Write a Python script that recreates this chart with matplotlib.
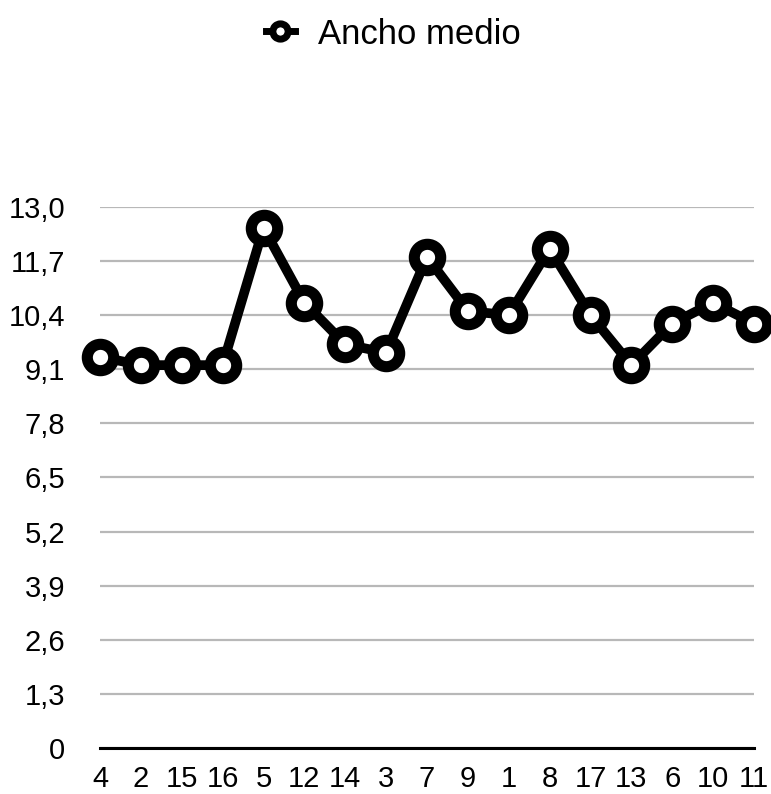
import matplotlib
matplotlib.use("Agg")
import matplotlib.pyplot as plt
from matplotlib.ticker import FixedLocator, FuncFormatter
from matplotlib.lines import Line2D

categories = ["4", "2", "15", "16", "5", "12", "14", "3", "7", "9", "1", "8", "17", "13", "6", "10", "11"]
ancho_medio = [9.4, 9.2, 9.2, 9.2, 12.5, 10.7, 9.7, 9.5, 11.8, 10.5, 10.4, 12.0, 10.4, 9.2, 10.2, 10.7, 10.2]
y_ticks = [0, 1.3, 2.6, 3.9, 5.2, 6.5, 7.8, 9.1, 10.4, 11.7, 13.0]
series_name = "Ancho medio"

plt.rcParams['font.family'] = ['Liberation Sans', 'DejaVu Sans']

fig = plt.figure(figsize=(7.71, 7.94), dpi=100)
ax = fig.add_axes([100/771, 1-748/794, (754-100)/771, (748-207)/794])

x = list(range(len(categories)))
ax.plot(x, ancho_medio, color='black', lw=7, marker='o', markersize=19,
        markerfacecolor='white', markeredgecolor='black', markeredgewidth=8,
        clip_on=False, zorder=3, label=series_name)

ax.set_xlim(0, len(categories)-1)
ax.set_ylim(0, 13.0)
ax.yaxis.set_major_locator(FixedLocator(y_ticks))
ax.yaxis.set_major_formatter(FuncFormatter(lambda v, p: "0" if v == 0 else f"{v:.1f}".replace(".", ",")))
ax.set_xticks(x)
ax.set_xticklabels(categories)
ax.grid(axis='y', color='#b8b8b8', lw=1.6)
ax.set_axisbelow(True)
for s in ['top', 'right', 'left']:
    ax.spines[s].set_visible(False)
ax.spines['bottom'].set_linewidth(2.2)
ax.spines['bottom'].set_zorder(2)
ax.tick_params(axis='y', length=0, pad=25, labelsize=21)
ax.tick_params(axis='x', length=0, pad=12, labelsize=21)

handle = Line2D([0], [0], color='black', lw=5, marker='o', markersize=11,
                markerfacecolor='white', markeredgecolor='black', markeredgewidth=5)
fig.legend(handles=[handle], labels=[series_name], loc='center',
           bbox_to_anchor=(393/771, 1-34/794), frameon=False, fontsize=25,
           handlelength=0.85, handletextpad=0.65)

fig.savefig("out.png", dpi=100, facecolor='white')
